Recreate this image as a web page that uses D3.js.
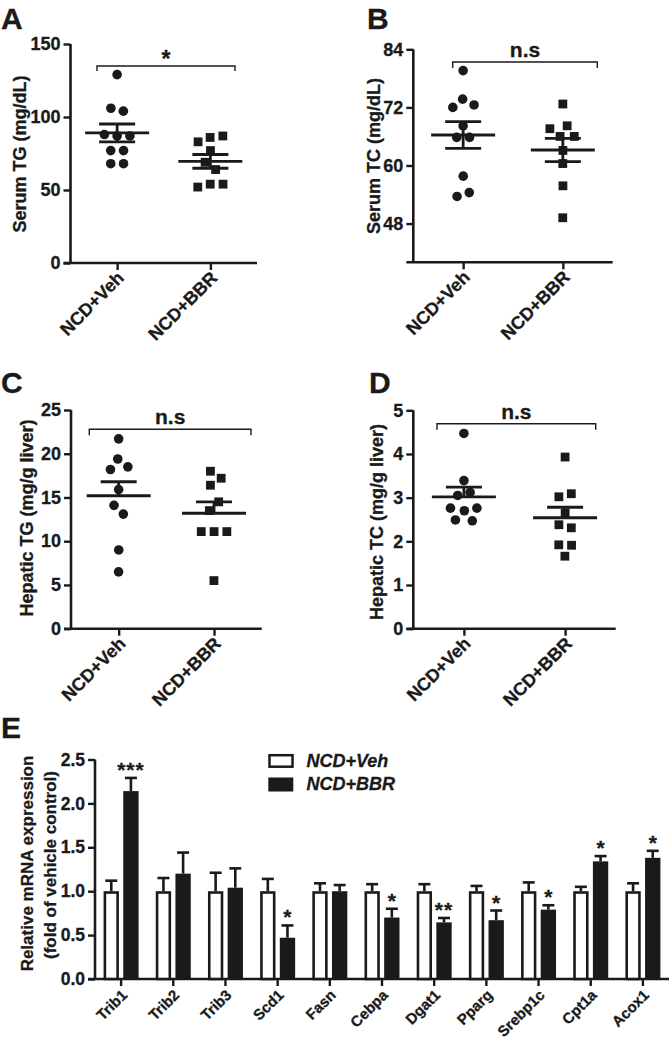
<!DOCTYPE html>
<html><head><meta charset="utf-8">
<script src="https://cdn.jsdelivr.net/npm/d3@7"></script>
<style>
body{margin:0;background:#fff}
text{font-family:"Liberation Sans",Arial,Helvetica,sans-serif;font-weight:bold;fill:#1a1a1a;stroke:#1a1a1a;stroke-width:0.3px}
</style>
</head><body>
<svg id="c" width="672" height="1041"></svg>
<script>
// ---------------- DATA ----------------
const groups = ["NCD+Veh", "NCD+BBR"];

const serumTG_veh = [129, 104, 106, 87, 88, 87, 77, 77, 68, 68];
const serumTG_bbr = [86, 87, 83, 77, 69, 64, 54, 54, 52];
const serumTG_mean = [89.1, 69.6];
const serumTG_sem = [6.1, 4.7];
const serumTG_ticks = [0, 50, 100, 150];

const serumTC_veh = [79.6, 72.5, 72, 73.7, 68.2, 65.8, 65.8, 57.8, 53.6, 54.4];
const serumTC_bbr = [72.7, 68.2, 67.6, 66, 66, 63.1, 60.4, 55.8, 49.2];
const serumTC_mean = [66.3, 63.2];
const serumTC_sem = [2.75, 2.4];
const serumTC_ticks = [48, 60, 72, 84];

const hepTG_veh = [21.7, 19.4, 18.2, 18.5, 15.9, 13.1, 14.1, 9.0, 6.5];
const hepTG_bbr = [18.0, 17.2, 16.4, 14.5, 13.5, 11.1, 11.1, 11.1, 5.5];
const hepTG_mean = [15.2, 13.2];
const hepTG_sem = [1.6, 1.3];
const hepTG_ticks = [0, 5, 10, 15, 20, 25];

const hepTC_veh = [4.47, 3.39, 3.05, 3.12, 2.70, 2.76, 2.76, 2.47, 2.49];
const hepTC_bbr = [3.93, 3.09, 3.02, 2.65, 2.38, 2.31, 1.92, 1.91, 1.66];
const hepTC_mean = [3.02, 2.54];
const hepTC_sem = [0.22, 0.24];
const hepTC_ticks = [0, 1, 2, 3, 4, 5];

const genes = ["Trib1","Trib2","Trib3","Scd1","Fasn","Cebpa","Dgat1","Pparg","Srebp1c","Cpt1a","Acox1"];
const vehExpr = [1, 1, 1, 1, 1, 1, 1, 1, 1, 1, 1];
const vehErr  = [0.12, 0.15, 0.21, 0.14, 0.09, 0.08, 0.08, 0.06, 0.10, 0.05, 0.09];
const bbrExpr = [2.14, 1.20, 1.04, 0.47, 1.00, 0.70, 0.645, 0.67, 0.79, 1.34, 1.38];
const bbrErr  = [0.15, 0.24, 0.22, 0.14, 0.07, 0.10, 0.05, 0.11, 0.05, 0.06, 0.08];
const exprSig = ["***", "", "", "*", "", "*", "**", "*", "*", "*", "*"];
const exprTicks = [0, 0.5, 1.0, 1.5, 2.0, 2.5];
const legendLabels = ["NCD+Veh", "NCD+BBR"];

// ---------------- LAYOUT ----------------
const INK = "#1a1a1a";
const svg = d3.select("#c");
const LETTER = 30;

const panels = [
  {letter:"A", lx:1, ly:28.5, x0:70.5, x1:257, yTop:44, yBot:263, domain:[0,150], ticks:serumTG_ticks,
   ylab:"Serum TG (mg/dL)", labX:26, labY:154, pts:[serumTG_veh, serumTG_bbr], mean:serumTG_mean, sem:serumTG_sem,
   both:true, br:{y:66, a:97, b:235, drop:5}, sig:"*"},
  {letter:"B", lx:367, ly:28.5, x0:413.3, x1:612.7, yTop:49.3, yBot:262.3, domain:[40,84], ticks:serumTC_ticks,
   ylab:"Serum TC (mg/dL)", labX:379.5, labY:156, pts:[serumTC_veh, serumTC_bbr], mean:serumTC_mean, sem:serumTC_sem,
   both:true, br:{y:62, a:452.7, b:597.3, drop:6}, sig:"n.s"},
  {letter:"C", lx:1, ly:393, x0:71, x1:261.7, yTop:410, yBot:628.7, domain:[0,25], ticks:hepTG_ticks,
   ylab:"Hepatic TG (mg/g liver)", labX:32.5, labY:518, pts:[hepTG_veh, hepTG_bbr], mean:hepTG_mean, sem:hepTG_sem,
   both:false, br:{y:429.3, a:89.3, b:251, drop:6}, sig:"n.s"},
  {letter:"D", lx:369, ly:393, x0:413.3, x1:615.7, yTop:410.3, yBot:628.7, domain:[0,5], ticks:hepTC_ticks,
   ylab:"Hepatic TC (mg/g liver)", labX:382.5, labY:522, pts:[hepTC_veh, hepTC_bbr], mean:hepTC_mean, sem:hepTC_sem,
   both:false, br:{y:423.7, a:437, b:595.7, drop:6}, sig:"n.s"}
];

function drawPanel(p) {
  const g = svg.append("g");
  const y = d3.scaleLinear().domain(p.domain).range([p.yBot, p.yTop]);
  const x = d3.scalePoint().domain(groups).range([p.x0, p.x1]).padding(0.5);

  g.append("text").attr("x", p.lx).attr("y", p.ly).attr("font-size", LETTER).text(p.letter);

  // y axis
  const ya = g.append("g").attr("transform", `translate(${p.x0},0)`)
    .call(d3.axisLeft(y).tickValues(p.ticks).tickSize(7).tickPadding(3).tickFormat(d3.format("")));
  ya.select(".domain").attr("d", `M0,${p.yBot}V${p.yTop}`);
  // x axis
  const xa = g.append("g").attr("transform", `translate(0,${p.yBot})`)
    .call(d3.axisBottom(x).tickSize(7).tickFormat(""));
  xa.select(".domain").attr("d", `M${p.x0 - 7},0H${p.x1}`);
  [ya, xa].forEach(a => {
    a.selectAll(".domain").attr("stroke", INK).attr("stroke-width", 2.6);
    a.selectAll(".tick line").attr("stroke", INK).attr("stroke-width", 2.4);
  });
  ya.selectAll(".tick text").attr("font-size", 18).attr("fill", INK).attr("font-family", null);

  // rotated x labels
  g.selectAll(".xl").data(groups).join("text")
    .attr("transform", d => `translate(${x(d) + 8},${p.yBot + 16}) rotate(-45)`)
    .attr("text-anchor", "end").attr("font-size", 18).text(d => d);

  // y label
  g.append("text").attr("transform", `translate(${p.labX},${p.labY}) rotate(-90)`)
    .attr("text-anchor", "middle").attr("font-size", 18).text(p.ylab);

  // points (beeswarm via force)
  const r = 4.8;
  p.pts.forEach((vals, gi) => {
    const cx = x(groups[gi]);
    const nodes = vals.map((v, i) => ({v, fy: y(v), x: cx + (i % 2 ? 1 : -1) * (i + 1) * 0.8}));
    const sim = d3.forceSimulation(nodes)
      .force("x", d3.forceX(cx).strength(0.06))
      .force("c", d3.forceCollide(6.4))
      .stop();
    for (let i = 0; i < 400; i++) sim.tick();
    if (gi === 0) {
      g.selectAll(null).data(nodes).join("circle")
        .attr("cx", d => d.x).attr("cy", d => y(d.v)).attr("r", r).attr("fill", INK);
    } else {
      const s = 8.8;
      g.selectAll(null).data(nodes).join("rect")
        .attr("x", d => d.x - s / 2).attr("y", d => y(d.v) - s / 2)
        .attr("width", s).attr("height", s).attr("fill", INK);
    }
    // mean and SEM
    const m = p.mean[gi], se = p.sem[gi];
    const lw = 2.8;
    g.append("line").attr("x1", cx - 32).attr("x2", cx + 32).attr("y1", y(m)).attr("y2", y(m))
      .attr("stroke", INK).attr("stroke-width", lw);
    const lo = p.both ? m - se : m;
    g.append("line").attr("x1", cx).attr("x2", cx).attr("y1", y(lo)).attr("y2", y(m + se))
      .attr("stroke", INK).attr("stroke-width", lw);
    const caps = p.both ? [m + se, m - se] : [m + se];
    caps.forEach(cv => g.append("line").attr("x1", cx - 18).attr("x2", cx + 18)
      .attr("y1", y(cv)).attr("y2", y(cv)).attr("stroke", INK).attr("stroke-width", lw));
  });

  // bracket
  const b = p.br;
  g.append("path").attr("d", `M${b.a},${b.y + b.drop}V${b.y}H${b.b}V${b.y + b.drop}`)
    .attr("fill", "none").attr("stroke", INK).attr("stroke-width", 1.4);
  const isStar = p.sig === "*";
  g.append("text").attr("x", (b.a + b.b) / 2).attr("y", isStar ? b.y + 1 : b.y - 5)
    .attr("text-anchor", "middle").attr("font-size", isStar ? 23 : 21).text(p.sig);
}
panels.forEach(drawPanel);

// ---------------- PANEL E ----------------
(function () {
  const g = svg.append("g");
  const x0 = 95, x1 = 669, yBot = 979, yTop = 759.5;
  const y = d3.scaleLinear().domain([0, 2.5]).range([yBot, yTop]);
  const x = d3.scaleBand().domain(genes).range([x0, x1]).padding(0);
  const sub = d3.scaleBand().domain(["veh", "bbr"]).range([-17.5, 17.5]).paddingInner(0.22);
  const bw = sub.bandwidth();

  g.append("text").attr("x", 1).attr("y", 738).attr("font-size", LETTER).text("E");

  const ya = g.append("g").attr("transform", `translate(${x0},0)`)
    .call(d3.axisLeft(y).tickValues(exprTicks).tickSize(7).tickPadding(3).tickFormat(d3.format(".1f")));
  const xa = g.append("g").attr("transform", `translate(0,${yBot})`)
    .call(d3.axisBottom(x).tickSize(7).tickFormat(""));
  ya.select(".domain").attr("d", `M0,${yBot}V${yTop}`);
  xa.select(".domain").attr("d", `M${x0 - 7},0H${x1}`);
  [ya, xa].forEach(a => {
    a.selectAll(".domain").attr("stroke", INK).attr("stroke-width", 2.6);
    a.selectAll(".tick line").attr("stroke", INK).attr("stroke-width", 2.4);
  });
  ya.selectAll(".tick text").attr("font-size", 17.5).attr("fill", INK).attr("font-family", null);

  g.selectAll(".gl").data(genes).join("text")
    .attr("transform", d => `translate(${x(d) + x.bandwidth() / 2 + 7},${yBot + 17}) rotate(-45)`)
    .attr("text-anchor", "end").attr("font-size", 15).text(d => d);

  // y label (two lines)
  g.append("text").attr("transform", `translate(33,863.5) rotate(-90)`)
    .attr("text-anchor", "middle").attr("font-size", 17).text("Relative mRNA expression");
  g.append("text").attr("transform", `translate(55.5,865) rotate(-90)`)
    .attr("text-anchor", "middle").attr("font-size", 17).text("(fold of vehicle control)");

  const sw = 2.6;
  genes.forEach((gn, i) => {
    const c = x(gn) + x.bandwidth() / 2;
    const drawErr = (bx, v, e) => {
      const cx = bx + bw / 2;
      g.append("line").attr("x1", cx).attr("x2", cx).attr("y1", y(v)).attr("y2", y(v + e))
        .attr("stroke", INK).attr("stroke-width", sw);
      g.append("line").attr("x1", cx - 6).attr("x2", cx + 6).attr("y1", y(v + e)).attr("y2", y(v + e))
        .attr("stroke", INK).attr("stroke-width", sw);
    };
    const vx = c + sub("veh"), bx = c + sub("bbr");
    drawErr(vx, vehExpr[i], vehErr[i]);
    drawErr(bx, bbrExpr[i], bbrErr[i]);
    g.append("rect").attr("x", vx + sw / 2).attr("y", y(vehExpr[i]) + sw / 2)
      .attr("width", bw - sw).attr("height", yBot - y(vehExpr[i]) - sw / 2)
      .attr("fill", "#fff").attr("stroke", INK).attr("stroke-width", sw);
    g.append("rect").attr("x", bx).attr("y", y(bbrExpr[i]))
      .attr("width", bw).attr("height", yBot - y(bbrExpr[i])).attr("fill", INK);
    if (exprSig[i]) {
      g.append("text").attr("x", bx + bw / 2).attr("y", y(bbrExpr[i] + bbrErr[i]) - 1)
        .attr("text-anchor", "middle").attr("font-size", 21).attr("letter-spacing", exprSig[i].length > 1 ? 1 : 0)
        .text(exprSig[i]);
    }
  });

  // legend
  const lg = g.append("g");
  legendLabels.forEach((lab, i) => {
    const ly = 754 + i * 23.5;
    if (i === 0) {
      lg.append("rect").attr("x", 269.5).attr("y", ly + 1.2).attr("width", 23).attr("height", 11.5)
        .attr("fill", "#fff").attr("stroke", INK).attr("stroke-width", 2.5);
    } else {
      lg.append("rect").attr("x", 268.3).attr("y", ly).attr("width", 25).attr("height", 14).attr("fill", INK);
    }
    lg.append("text").attr("x", 306.5).attr("y", ly + 12.8).attr("font-size", 18)
      .attr("font-style", "italic").text(lab);
  });
})();
</script>
</body></html>
